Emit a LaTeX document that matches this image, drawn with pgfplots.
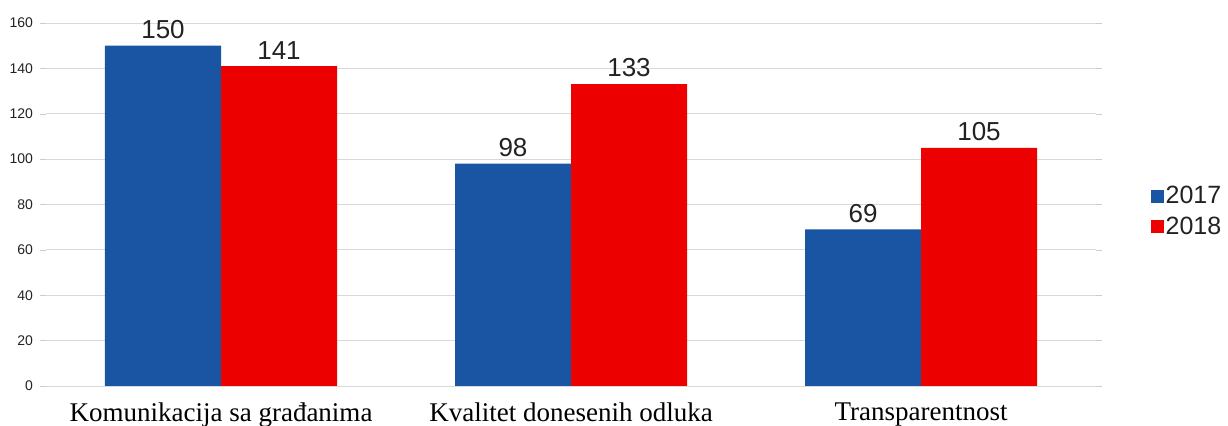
\documentclass[border=0pt]{standalone}
\usepackage{fontspec}
\setmainfont{Liberation Sans}
\newfontfamily\serifcat{Liberation Serif}
\usepackage{pgfplots}
\pgfplotsset{compat=1.18}
\definecolor{barblue}{RGB}{25,85,163}
\definecolor{barred}{RGB}{236,0,0}
\definecolor{txt}{RGB}{34,34,34}
\begin{document}
\begin{tikzpicture}
\useasboundingbox (-23pt,-20pt) rectangle (591pt,193pt);
\begin{axis}[
  at={(0pt,0pt)}, anchor=south west,
  scale only axis,
  width=525pt, height=181.5pt,
  ybar=0pt, bar width=58pt,
  xmin=-0.5, xmax=2.5,
  ymin=0, ymax=160,
  ytick={0,20,...,160},
  xtick=data,
  xticklabels={Komunikacija sa građanima, Kvalitet donesenih odluka, Transparentnost},
  axis line style={draw=none},
  ymajorgrids,
  major grid style={draw=black!15},
  ytick style={draw=black!20},
  xtick style={draw=none},
  major tick length=3pt,
  tick align=outside,
  /pgf/number format/assume math mode=true,
  yticklabel style={font=\fontsize{7}{8}\selectfont, text=txt, xshift=0pt},
  xticklabel style={font=\serifcat\fontsize{13.5}{15}\selectfont, text=black, yshift=-2pt},
  nodes near coords,
  nodes near coords style={font=\fontsize{13}{14}\selectfont, text=txt},
  legend style={at={(rel axis cs:1.052,0.48)}, anchor=west, draw=none, fill=none,
    inner sep=0pt, outer sep=0pt,
    font=\fontsize{12.5}{14}\selectfont, text=txt, row sep=3pt,
    nodes={inner sep=1pt},
    /tikz/every even column/.append style={column sep=0pt}},
  legend image code/.code={\fill[#1] (0pt,-3.2pt) rectangle (6.5pt,3.3pt);},
  legend cell align=left,
]
\addplot[draw=none, fill=barblue] coordinates {(0,150) (1,98) (2,69)};
\addplot[draw=none, fill=barred] coordinates {(0,141) (1,133) (2,105)};
\legend{2017,2018}
\end{axis}
\end{tikzpicture}
\end{document}
